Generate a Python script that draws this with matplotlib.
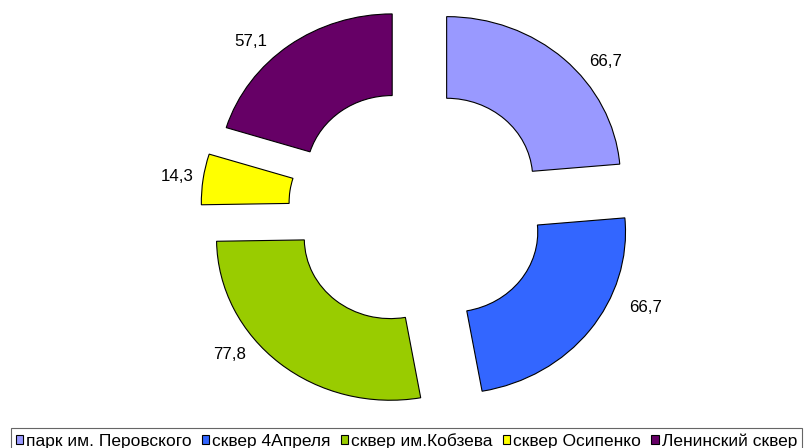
import matplotlib
matplotlib.use("Agg")
import matplotlib.pyplot as plt
import numpy as np

# Survey results per green area
categories = ["парк им. Перовского", "сквер 4Апреля", "сквер им.Кобзева",
              "сквер Осипенко", "Ленинский сквер"]
values = [66.7, 66.7, 77.8, 14.3, 57.1]
value_labels = ["66,7", "66,7", "77,8", "14,3", "57,1"]

colors = ["#9999FF", "#3366FF", "#99CC00", "#FFFF00", "#660066"]

plt.rcParams["font.family"] = ["Liberation Sans", "DejaVu Sans"]

fig = plt.figure(figsize=(8.08, 4.48), dpi=100)
ax = fig.add_axes([0, 0, 1, 1])

wedges, _ = ax.pie(
    values,
    colors=colors,
    startangle=90,
    counterclock=False,
    explode=[0.247] * len(values),
    radius=1.0,
    wedgeprops=dict(width=0.505, edgecolor="black", linewidth=0.8),
)

ax.set_aspect("auto")
ax.set_xlim(-2.403, 2.246)
ax.set_ylim(-1.486, 1.285)
ax.axis("off")

# Value labels placed outside each ring segment (radius, angle in degrees
# measured from the segment's own centre)
label_polar = [(1.164, 38.3), (1.211, -22.6), (1.169, -142.2),
               (1.149, 172.1), (1.163, 134.5)]
for w, txt, (r, a) in zip(wedges, value_labels, label_polar):
    cx, cy = w.center
    ax.text(cx + r * np.cos(np.radians(a)), cy + r * np.sin(np.radians(a)),
            txt, ha="center", va="center", fontsize=12.2, color="black")

leg = fig.legend(
    wedges, categories,
    loc="upper left",
    bbox_to_anchor=(11 / 808, 1 - 428 / 448),
    ncol=5,
    fontsize=12.5,
    frameon=True,
    fancybox=False,
    shadow=False,
    edgecolor="#404040",
    handlelength=0.43,
    handleheight=0.43,
    handletextpad=0.17,
    columnspacing=0.58,
    borderpad=0.27,
    borderaxespad=0,
)
leg.get_frame().set_linewidth(0.8)
for h in leg.legend_handles:
    h.set_edgecolor("black")
    h.set_linewidth(0.8)

fig.savefig("out.png", dpi=100)
